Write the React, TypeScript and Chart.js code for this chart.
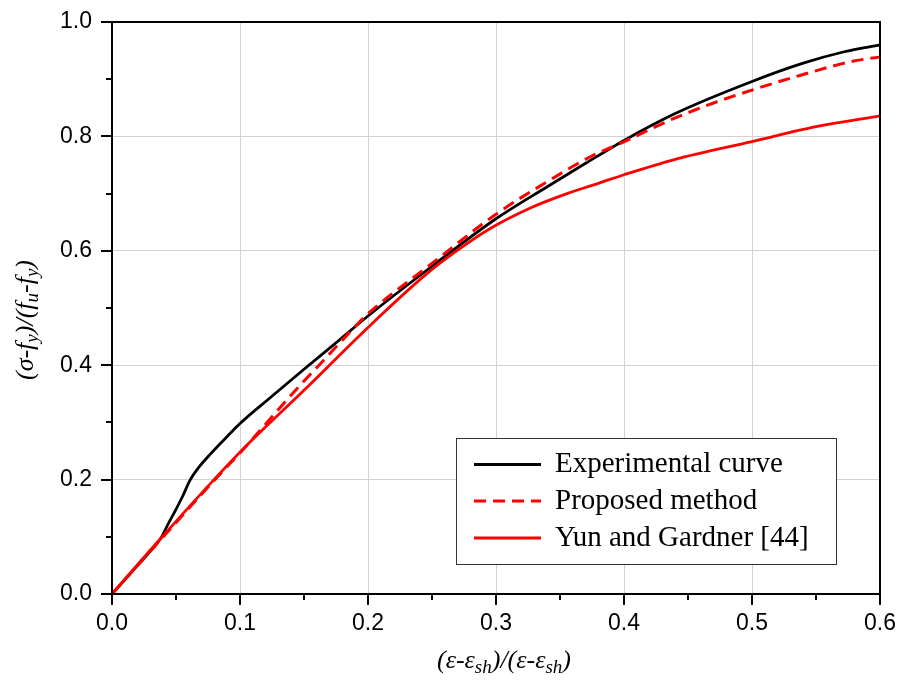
import { useEffect, useRef } from "react";
import { Chart, registerables } from "chart.js";

Chart.register(...registerables);

// ---- Data ----
const expX = [0, 0.01, 0.02, 0.03, 0.038, 0.044, 0.05, 0.055, 0.061, 0.068, 0.077, 0.092, 0.1, 0.124, 0.15, 0.176, 0.2, 0.25, 0.3, 0.34, 0.37, 0.4, 0.44, 0.5, 0.54, 0.572, 0.6];
const expY = [0, 0.025, 0.05, 0.075, 0.097, 0.123, 0.148, 0.17, 0.199, 0.222, 0.245, 0.28, 0.298, 0.344, 0.393, 0.441, 0.486, 0.573, 0.656, 0.712, 0.753, 0.793, 0.84, 0.896, 0.928, 0.948, 0.96];

const propX = [0, 0.04, 0.08, 0.103, 0.118, 0.1445, 0.163, 0.191, 0.2, 0.25, 0.3, 0.342, 0.376, 0.3945, 0.436, 0.4727, 0.5, 0.538, 0.577, 0.6];
const propY = [0, 0.1, 0.199, 0.254, 0.292, 0.359, 0.403, 0.47, 0.49, 0.578, 0.664, 0.7235, 0.767, 0.785, 0.8285, 0.8606, 0.881, 0.907, 0.9306, 0.939];

const yunX = [0, 0.038, 0.1, 0.15, 0.2, 0.246, 0.27, 0.2955, 0.329, 0.3555, 0.38, 0.4, 0.44, 0.5, 0.55, 0.6];
const yunY = [0, 0.097, 0.248, 0.356, 0.466, 0.56, 0.601, 0.639, 0.677, 0.7, 0.718, 0.733, 0.76, 0.791, 0.817, 0.836];

const xTickValues = [0, 0.1, 0.2, 0.3, 0.4, 0.5, 0.6];
const yTickValues = [0, 0.2, 0.4, 0.6, 0.8, 1.0];

const seriesLabels = ["Experimental curve", "Proposed method", "Yun and Gardner [44]"];

// [text, isSubscript]
const xTitleParts: [string, boolean][] = [["(ε-ε", false], ["sh", true], [")/(ε-ε", false], ["sh", true], [")", false]];
const yTitleParts: [string, boolean][] = [["(σ-f", false], ["y", true], [")/(f", false], ["u", true], ["-f", false], ["y", true], [")", false]];

const pts = (xs: number[], ys: number[]) => xs.map((x, i) => ({ x, y: ys[i] }));

const TITLE_FONT = 26;
const SUB_FONT = 19;

function drawRich(ctx: CanvasRenderingContext2D, parts: [string, boolean][], cx: number, baseY: number) {
  const fam = '"Liberation Serif", "Times New Roman", serif';
  const widths = parts.map(([t, s]) => {
    ctx.font = `italic ${s ? SUB_FONT : TITLE_FONT}px ${fam}`;
    return ctx.measureText(t).width;
  });
  const total = widths.reduce((a, b) => a + b, 0);
  let x = cx - total / 2;
  ctx.textAlign = "left";
  ctx.textBaseline = "alphabetic";
  parts.forEach(([t, s], i) => {
    ctx.font = `italic ${s ? SUB_FONT : TITLE_FONT}px ${fam}`;
    ctx.fillText(t, x, baseY + (s ? 5 : 0));
    x += widths[i];
  });
}

const decor = {
  id: "decor",
  afterDraw(chart: any) {
    const { ctx, chartArea: a, scales } = chart;
    const xs = scales.x;
    const ys = scales.y;
    ctx.save();
    ctx.strokeStyle = "#000";
    ctx.fillStyle = "#000";
    ctx.lineWidth = 2;
    // frame
    ctx.strokeRect(a.left, a.top, a.right - a.left, a.bottom - a.top);
    // ticks (major + minor)
    ctx.beginPath();
    for (let i = 0; i <= 12; i++) {
      const px = Math.round(xs.getPixelForValue(i * 0.05));
      const len = i % 2 === 0 ? 11 : 6;
      ctx.moveTo(px, a.bottom);
      ctx.lineTo(px, a.bottom + len);
    }
    for (let i = 0; i <= 10; i++) {
      const py = Math.round(ys.getPixelForValue(i * 0.1));
      const len = i % 2 === 0 ? 11 : 6;
      ctx.moveTo(a.left - len, py);
      ctx.lineTo(a.left, py);
    }
    ctx.stroke();

    // axis titles
    drawRich(ctx, xTitleParts, 504, 668);
    ctx.save();
    ctx.translate(33, 320);
    ctx.rotate(-Math.PI / 2);
    drawRich(ctx, yTitleParts, 0, 0);
    ctx.restore();

    // legend
    const bx = 456, by = 438, bw = 380, bh = 126;
    ctx.fillStyle = "#fff";
    ctx.fillRect(bx, by, bw, bh);
    ctx.lineWidth = 1;
    ctx.strokeStyle = "#333";
    ctx.strokeRect(bx + 0.5, by + 0.5, bw, bh);
    const rows = [464.5, 501, 538];
    chart.data.datasets.forEach((ds: any, i: number) => {
      ctx.beginPath();
      ctx.strokeStyle = ds.borderColor;
      ctx.lineWidth = 3;
      ctx.setLineDash(ds.borderDash || []);
      ctx.moveTo(474, rows[i]);
      ctx.lineTo(541, rows[i]);
      ctx.stroke();
      ctx.setLineDash([]);
      ctx.fillStyle = "#000";
      ctx.font = '29px "Liberation Serif", "Times New Roman", serif';
      ctx.textAlign = "left";
      ctx.textBaseline = "middle";
      ctx.fillText(ds.label, 555, rows[i]);
    });
    ctx.restore();
  },
};

const zeroPad = (s: any) => {
  s.paddingTop = 0;
  s.paddingBottom = 0;
  s.paddingLeft = 0;
  s.paddingRight = 0;
};

export default function App() {
  const ref = useRef<HTMLCanvasElement | null>(null);
  useEffect(() => {
    if (!ref.current) return;
    const chart = new Chart(ref.current, {
      type: "line",
      data: {
        datasets: [
          {
            label: seriesLabels[0],
            data: pts(expX, expY),
            borderColor: "#000000",
            borderWidth: 2.8,
            pointRadius: 0,
            cubicInterpolationMode: "monotone",
            order: 2,
          },
          {
            label: seriesLabels[1],
            data: pts(propX, propY),
            borderColor: "#ff0000",
            borderWidth: 3,
            borderDash: [12, 7],
            pointRadius: 0,
            cubicInterpolationMode: "monotone",
            order: 1,
          },
          {
            label: seriesLabels[2],
            data: pts(yunX, yunY),
            borderColor: "#ff0000",
            borderWidth: 2.8,
            pointRadius: 0,
            cubicInterpolationMode: "monotone",
            order: 0,
          },
        ],
      },
      options: {
        animation: false,
        responsive: false,
        maintainAspectRatio: false,
        layout: { padding: { left: 0, top: 22, right: 19, bottom: 0 } },
        plugins: { legend: { display: false }, tooltip: { enabled: false }, title: { display: false } },
        scales: {
          x: {
            type: "linear",
            min: 0,
            max: 0.6,
            afterBuildTicks: (s: any) => {
              s.ticks = xTickValues.map((v) => ({ value: v }));
            },
            afterFit: (s: any) => {
              s.height = 87;
              zeroPad(s);
            },
            ticks: {
              padding: 16,
              color: "#000",
              font: { family: '"Liberation Sans", Arial, sans-serif', size: 23 },
              callback: (v: any) => Number(v).toFixed(1),
              maxRotation: 0,
            },
            grid: { color: "#d2d2d2", lineWidth: 1, drawTicks: false },
            border: { display: false },
          },
          y: {
            type: "linear",
            min: 0,
            max: 1,
            afterBuildTicks: (s: any) => {
              s.ticks = yTickValues.map((v) => ({ value: v }));
            },
            afterFit: (s: any) => {
              s.width = 112;
              zeroPad(s);
            },
            ticks: {
              padding: 20,
              color: "#000",
              font: { family: '"Liberation Sans", Arial, sans-serif', size: 23 },
              callback: (v: any) => Number(v).toFixed(1),
            },
            grid: { color: "#d2d2d2", lineWidth: 1, drawTicks: false },
            border: { display: false },
          },
        },
      },
      plugins: [decor],
    } as any);
    return () => chart.destroy();
  }, []);
  return (
    <div style={{ position: "fixed", left: 0, top: 0, width: 899, height: 681, background: "#fff" }}>
      <canvas ref={ref} width={899} height={681} style={{ width: 899, height: 681, display: "block" }} />
    </div>
  );
}
